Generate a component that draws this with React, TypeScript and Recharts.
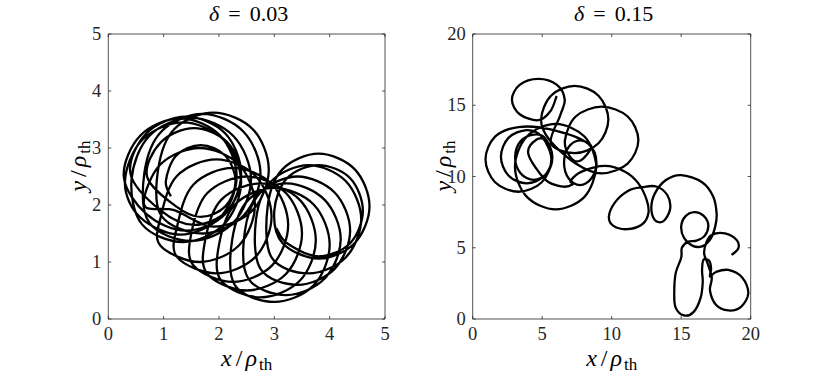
import React from 'react';
import { LineChart, Line, XAxis, YAxis, ReferenceArea } from 'recharts';

// ---------- data ----------
const leftTicks = [0, 1, 2, 3, 4, 5];
const rightTicks = [0, 5, 10, 15, 20];
const leftTitle = '0.03';
const rightTitle = '0.15';

// trajectory, delta = 0.03 : [x/rho, y/rho]
const leftTrajectory: [number, number][] = [
  [1.13, 2.15],
  [1.04, 2.42], [1.225, 2.865], [1.67, 3.05], [2.115, 2.865], [2.3, 2.42], [2.115, 1.975], [1.67, 1.79], [1.225, 1.975],
  [0.7, 2.5], [0.95, 3.1], [1.55, 3.35], [2.15, 3.1], [2.4, 2.5], [2.15, 1.9], [1.55, 1.65], [0.95, 1.9],
  [0.4, 2.55], [0.69, 3.26], [1.4, 3.55], [2.11, 3.26], [2.4, 2.55], [2.11, 1.84], [1.4, 1.55], [0.69, 1.84],
  [0.28, 2.5], [0.58, 3.22], [1.3, 3.52], [2.02, 3.22], [2.32, 2.5], [2.02, 1.78], [1.3, 1.48], [0.58, 1.78],
  [0.3, 2.4], [0.61, 3.14], [1.35, 3.45], [2.09, 3.14], [2.4, 2.4], [2.09, 1.66], [1.35, 1.35], [0.61, 1.66],
  [0.42, 2.45], [0.74, 3.21], [1.5, 3.53], [2.26, 3.21], [2.58, 2.45], [2.26, 1.69], [1.5, 1.37], [0.74, 1.69],
  [0.65, 2.55], [0.96, 3.29], [1.7, 3.6], [2.44, 3.29], [2.75, 2.55], [2.44, 1.81], [1.7, 1.5], [0.96, 1.81],
  [0.9, 2.62], [1.19, 3.33], [1.9, 3.62], [2.61, 3.33], [2.9, 2.62], [2.61, 1.91], [1.9, 1.62], [1.19, 1.91],
  [0.65, 2.0], [0.94, 2.71], [1.65, 3.0], [2.36, 2.71], [2.65, 2.0], [2.36, 1.29], [1.65, 1.0], [0.94, 1.29],
  [0.95, 1.8], [1.24, 2.51], [1.95, 2.8], [2.66, 2.51], [2.95, 1.8], [2.66, 1.09], [1.95, 0.8], [1.24, 1.09],
  [1.25, 1.65], [1.54, 2.36], [2.25, 2.65], [2.96, 2.36], [3.25, 1.65], [2.96, 0.94], [2.25, 0.65], [1.54, 0.94],
  [1.5, 1.5], [1.79, 2.21], [2.5, 2.5], [3.21, 2.21], [3.5, 1.5], [3.21, 0.79], [2.5, 0.5], [1.79, 0.79],
  [1.75, 1.38], [2.04, 2.09], [2.75, 2.38], [3.46, 2.09], [3.75, 1.38], [3.46, 0.67], [2.75, 0.38], [2.04, 0.67],
  [2.0, 1.3], [2.29, 2.01], [3.0, 2.3], [3.71, 2.01], [4.0, 1.3], [3.71, 0.59], [3.0, 0.3], [2.29, 0.59],
  [2.24, 1.4], [2.53, 2.09], [3.22, 2.38], [3.91, 2.09], [4.2, 1.4], [3.91, 0.71], [3.22, 0.42], [2.53, 0.71],
  [2.47, 1.55], [2.75, 2.22], [3.42, 2.5], [4.09, 2.22], [4.37, 1.55], [4.09, 0.88], [3.42, 0.6], [2.75, 0.88],
  [2.67, 1.75], [2.95, 2.42], [3.62, 2.7], [4.29, 2.42], [4.57, 1.75], [4.29, 1.08], [3.62, 0.8], [2.95, 1.08],
  [2.88, 1.98], [3.15, 2.63], [3.8, 2.9], [4.45, 2.63], [4.72, 1.98], [4.45, 1.33], [3.8, 1.06], [3.15, 1.33],
  [3.0, 1.9], [3.23, 2.47], [3.8, 2.7], [4.37, 2.47], [4.6, 1.9], [4.37, 1.33], [3.8, 1.1], [3.23, 1.33],
  [3.04, 1.59],
];

// trajectory, delta = 0.15 : [x/rho, y/rho]
const rightTrajectory: [number, number][] = [
  [6.04, 15.65], [5.6, 14.6],
  // loop A
  [4.72, 13.95], [3.38, 14.37], [2.82, 15.4], [3.38, 16.43], [4.72, 16.85], [6.06, 16.43], [6.62, 15.4], [6.3, 14.3],
  // loop B
  [5.63, 12.33], [7.34, 11.64], [9.05, 12.33], [9.76, 14.0], [9.05, 15.67], [7.34, 16.36], [5.63, 15.67], [4.92, 14.0], [5.5, 12.6],
  // loop C
  [7.41, 10.91], [9.28, 10.22], [11.15, 10.91], [11.92, 12.56], [11.15, 14.21], [9.28, 14.9], [7.41, 14.21], [6.64, 12.56], [7.0, 11.4],
  // loop H
  [7.72, 11.1], [8.53, 12.08], [7.72, 12.54], [6.91, 12.08], [6.57, 10.97], [6.91, 9.86], [7.72, 9.4], [8.53, 9.86], [8.87, 10.97],
  // loop G
  [8.04, 12.81], [5.97, 13.69], [3.9, 12.81], [3.04, 10.69], [3.9, 8.57], [5.97, 7.69], [8.04, 8.57], [8.9, 10.69], [8.3, 12.3],
  // loop D
  [5.6, 13.3], [3.29, 13.47], [1.61, 12.8], [0.92, 11.2], [1.61, 9.6], [3.29, 8.93], [4.97, 9.6], [5.66, 11.2], [4.97, 12.8],
  // loop E
  [3.88, 13.26], [2.57, 12.71], [2.03, 11.39], [2.57, 10.07], [3.88, 9.52], [5.19, 10.07], [5.73, 11.39], [5.19, 12.71],
  // loop F
  [4.39, 12.94], [3.44, 12.47], [3.05, 11.35], [3.44, 10.23], [4.39, 9.76], [5.34, 10.23], [5.73, 11.35], [5.34, 12.47],
  [4.6, 12.6], [4.0, 11.6],
  // exit, cusp
  [5.2, 9.8], [6.4, 9.3], [7.2, 9.45], [7.05, 9.7],
  // arc
  [7.84, 10.34], [9.52, 10.74], [10.96, 10.34], [11.92, 9.52], [12.52, 8.35], [12.64, 7.42],
  // loop I
  [12.2, 6.65], [11.1, 6.3], [10.1, 6.55], [9.8, 7.2], [10.25, 8.2], [11.2, 9.0], [12.2, 9.25],
  // loop J
  [13.2, 9.3], [14.0, 8.7], [14.2, 7.7], [13.7, 6.85], [13.1, 6.95], [12.85, 7.8], [13.1, 8.8],
  // arc K
  [13.9, 9.75], [15.0, 10.1], [16.5, 9.6], [17.3, 8.6], [17.55, 7.4], [17.45, 6.5], [17.1, 5.6],
  // loop L
  [16.5, 5.1], [15.8, 5.15], [15.2, 5.7], [15.0, 6.5], [15.3, 7.2], [15.95, 7.5], [16.6, 7.25], [16.95, 6.6], [16.7, 5.85], [16.1, 5.5],
  [15.5, 5.43], [15.05, 5.0],
  // loop O
  [15.0, 4.3], [14.6, 3.2], [14.5, 1.8], [14.6, 0.8], [15.2, 0.25], [15.9, 0.5], [16.4, 1.5], [16.55, 2.6], [16.5, 3.4],
  // loop N
  [16.6, 4.15], [17.0, 4.1], [17.15, 3.55], [17.07, 2.97],
  // loop P
  [17.5, 3.3], [18.39, 3.44], [19.4, 2.9], [19.83, 1.81], [19.3, 0.85], [18.39, 0.6], [17.5, 1.0], [17.07, 2.0], [17.2, 2.9],
  // loop M
  [16.9, 3.9], [16.65, 4.6], [16.8, 5.35], [17.19, 5.9], [18.15, 6.01], [18.99, 5.54], [19.11, 4.96], [18.63, 4.49],
];

// ---------- layout ----------
const W = 830;
const H = 377;
const PLOT_TOP = 34;
const PLOT_BOTTOM = 319;
const Y_AXIS_W = 40;
const X_AXIS_H = 30;
const AXIS_COLOR = '#262626';
const TICK_LEN = 3;
const FONT = 'Liberation Serif, serif';

// smooth curve through every point (Catmull-Rom style Bezier segments)
function smoothCurve(context: any) {
  let pts: number[][] = [];
  return {
    areaStart() {},
    areaEnd() {},
    lineStart() {
      pts = [];
    },
    point(x: number, y: number) {
      pts.push([+x, +y]);
    },
    lineEnd() {
      if (!pts.length) return;
      context.moveTo(pts[0][0], pts[0][1]);
      for (let i = 0; i < pts.length - 1; i++) {
        const p0 = pts[i - 1] || pts[i];
        const p1 = pts[i];
        const p2 = pts[i + 1];
        const p3 = pts[i + 2] || p2;
        context.bezierCurveTo(
          p1[0] + (p2[0] - p0[0]) / 6,
          p1[1] + (p2[1] - p0[1]) / 6,
          p2[0] - (p3[0] - p1[0]) / 6,
          p2[1] - (p3[1] - p1[1]) / 6,
          p2[0],
          p2[1],
        );
      }
    },
  };
}

type PanelProps = {
  points: [number, number][];
  ticks: number[];
  plotLeft: number;
  plotRight: number;
};

function Panel({ points, ticks, plotLeft, plotRight }: PanelProps) {
  const data = points.map(([x, y]) => ({ x, y }));
  const max = ticks[ticks.length - 1];
  const margin = {
    top: PLOT_TOP,
    bottom: H - PLOT_BOTTOM - X_AXIS_H,
    left: plotLeft - Y_AXIS_W,
    right: W - plotRight,
  };
  const xTick = (props: any) => {
    const { x, payload } = props;
    return (
      <g>
        <line x1={x} x2={x} y1={PLOT_BOTTOM} y2={PLOT_BOTTOM - TICK_LEN} stroke={AXIS_COLOR} strokeWidth={0.8} />
        <line x1={x} x2={x} y1={PLOT_TOP} y2={PLOT_TOP + TICK_LEN} stroke={AXIS_COLOR} strokeWidth={0.8} />
        <text x={x} y={PLOT_BOTTOM + 21} textAnchor="middle" fontFamily={FONT} fontSize={18.5} fill="#262626">
          {payload.value}
        </text>
      </g>
    );
  };
  const yTick = (props: any) => {
    const { y, payload } = props;
    return (
      <g>
        <line x1={plotLeft} x2={plotLeft + TICK_LEN} y1={y} y2={y} stroke={AXIS_COLOR} strokeWidth={0.8} />
        <line x1={plotRight} x2={plotRight - TICK_LEN} y1={y} y2={y} stroke={AXIS_COLOR} strokeWidth={0.8} />
        <text x={plotLeft - 7} y={y + 6} textAnchor="end" fontFamily={FONT} fontSize={18.5} fill="#262626">
          {payload.value}
        </text>
      </g>
    );
  };
  return (
    <div style={{ position: 'absolute', left: 0, top: 0, width: W, height: H }}>
      <LineChart width={W} height={H} margin={margin}>
        <XAxis
          type="number"
          dataKey="x"
          domain={[0, max]}
          ticks={ticks}
          interval={0}
          allowDataOverflow
          tick={xTick}
          tickLine={false}
          axisLine={false}
          height={X_AXIS_H}
        />
        <YAxis
          type="number"
          dataKey="y"
          domain={[0, max]}
          ticks={ticks}
          interval={0}
          allowDataOverflow
          tick={yTick}
          tickLine={false}
          axisLine={false}
          width={Y_AXIS_W}
        />
        <ReferenceArea x1={0} x2={max} y1={0} y2={max} fill="none" stroke={AXIS_COLOR} strokeWidth={0.8} fillOpacity={0} />
        <Line
          data={data}
          dataKey="y"
          type={smoothCurve as any}
          stroke="#000000"
          strokeWidth={2.3}
          dot={false}
          activeDot={false}
          isAnimationActive={false}
        />
      </LineChart>
    </div>
  );
}

function AxisName({ v }: { v: string }) {
  return (
    <>
      <tspan fontStyle="italic">{v}</tspan>
      <tspan dx={4}>/</tspan>
      <tspan dx={3} fontStyle="italic">ρ</tspan>
      <tspan dx={2} fontSize={17} dy={4}>th</tspan>
    </>
  );
}

function Labels({ plotLeft, plotRight, delta }: { plotLeft: number; plotRight: number; delta: string }) {
  const cx = (plotLeft + plotRight) / 2;
  const ylabelCy = 166;
  return (
    <g fontFamily={FONT} fill="#000">
      <text x={cx + 2} y={21} textAnchor="middle" fontSize={22}>
        <tspan fontStyle="italic">δ</tspan>
        <tspan dx={9}>=</tspan>
        <tspan dx={9}>{delta}</tspan>
      </text>
      <text x={cx} y={366} textAnchor="middle" fontSize={24}>
        <AxisName v="x" />
      </text>
      <text transform={`translate(${plotLeft - 22}, ${ylabelCy}) rotate(-90)`} textAnchor="middle" fontSize={24}>
        <AxisName v="y" />
      </text>
    </g>
  );
}

export default function App() {
  const LEFT = { l: 108.3, r: 385 };
  const RIGHT = { l: 472.7, r: 750.7 };
  return (
    <div style={{ position: 'absolute', left: 0, top: 0, width: W, height: H, background: '#fff' }}>
      <Panel points={leftTrajectory} ticks={leftTicks} plotLeft={LEFT.l} plotRight={LEFT.r} />
      <Panel points={rightTrajectory} ticks={rightTicks} plotLeft={RIGHT.l} plotRight={RIGHT.r} />
      <svg width={W} height={H} style={{ position: 'absolute', left: 0, top: 0, pointerEvents: 'none' }}>
        <Labels plotLeft={LEFT.l} plotRight={LEFT.r} delta={leftTitle} />
        <Labels plotLeft={RIGHT.l} plotRight={RIGHT.r} delta={rightTitle} />
      </svg>
    </div>
  );
}
